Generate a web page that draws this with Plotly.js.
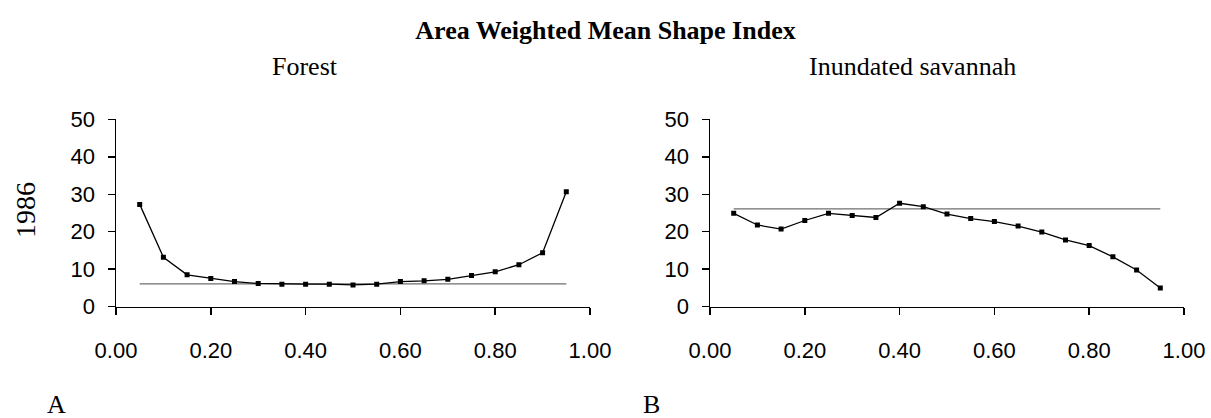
<!DOCTYPE html>
<html>
<head>
<meta charset="utf-8">
<script src="https://cdn.plot.ly/plotly-3.0.1.min.js"></script>
<style>html,body{margin:0;padding:0;background:#fff;}#chart{width:1211px;height:418px;}</style>
</head>
<body>
<div id="chart"></div>
<script>
// Data
const proportion = [0.05,0.10,0.15,0.20,0.25,0.30,0.35,0.40,0.45,0.50,0.55,0.60,0.65,0.70,0.75,0.80,0.85,0.90,0.95];
const forestAWMSI = [27.3,13.2,8.5,7.5,6.7,6.2,6.0,6.0,6.0,5.8,6.0,6.7,6.9,7.3,8.3,9.3,11.2,14.4,30.7];
const savannahAWMSI = [24.9,21.8,20.7,23.0,24.9,24.3,23.8,27.6,26.7,24.7,23.5,22.7,21.5,19.9,17.8,16.3,13.3,9.8,5.0];
const refX = [0.05, 0.95];
const forestRef = [6.1, 6.1];
const savannahRef = [26.1, 26.1];
const xTicks = [0, 0.2, 0.4, 0.6, 0.8, 1.0];
const yTicks = [0, 10, 20, 30, 40, 50];
const mainTitle = 'Area Weighted Mean Shape Index';
const panelTitles = ['Forest', 'Inundated savannah'];
const yearLabel = '1986';
const panelLetters = ['A', 'B'];

const lineStyle = {color:'#000', width:1.3};
const markerStyle = {symbol:'square', size:5, color:'#000'};
const refStyle = {color:'#6e6e6e', width:1.2};

const traces = [
  {x: refX, y: forestRef, mode:'lines', line: refStyle, xaxis:'x', yaxis:'y', hoverinfo:'skip'},
  {x: proportion, y: forestAWMSI, mode:'lines+markers', line: lineStyle, marker: markerStyle, xaxis:'x', yaxis:'y'},
  {x: refX, y: savannahRef, mode:'lines', line: refStyle, xaxis:'x2', yaxis:'y2', hoverinfo:'skip'},
  {x: proportion, y: savannahAWMSI, mode:'lines+markers', line: lineStyle, marker: markerStyle, xaxis:'x2', yaxis:'y2'}
];

const tickFont = {family:'"Liberation Sans", Arial, sans-serif', size:22, color:'#000'};
function xAx(domain, anchor){
  return {domain: domain, anchor: anchor, range:[0,1], tickvals: xTicks, tickformat:'.2f',
    showline:true, linecolor:'#000', linewidth:1.5, ticks:'outside', ticklen:7, tickwidth:1.5, tickcolor:'#000',
    showgrid:false, zeroline:false, tickfont: tickFont, ticklabelstandoff: 16, fixedrange:true};
}
function yAx(domain, anchor){
  return {domain: domain, anchor: anchor, range:[0,50], tickvals: yTicks,
    showline:true, linecolor:'#000', linewidth:1.5, ticks:'outside', ticklen:7, tickwidth:1.5, tickcolor:'#000',
    showgrid:false, zeroline:false, tickfont: tickFont, ticklabelstandoff: 8, fixedrange:true};
}
const yDom = [1-306.7/418, 1-119.3/418];
const serif = '"Liberation Serif", "Times New Roman", serif';

const layout = {
  width:1211, height:418,
  margin:{l:0, r:0, t:0, b:0},
  paper_bgcolor:'#fff', plot_bgcolor:'#fff',
  showlegend:false,
  title:{text:'<b>'+mainTitle+'</b>', x:0.5, xanchor:'center', y:1-30/418, yanchor:'middle', font:{family:serif, size:26, color:'#000'}},
  xaxis: xAx([116/1211, 590/1211], 'y'),
  yaxis: yAx(yDom, 'x'),
  xaxis2: xAx([710/1211, 1184/1211], 'y2'),
  yaxis2: yAx(yDom, 'x2'),
  annotations:[
    {text: panelTitles[0], xref:'paper', yref:'paper', x:305/1211, y:1-66/418, xanchor:'center', yanchor:'middle', showarrow:false, font:{family:serif, size:26, color:'#000'}},
    {text: panelTitles[1], xref:'paper', yref:'paper', x:912/1211, y:1-66/418, xanchor:'center', yanchor:'middle', showarrow:false, font:{family:serif, size:26, color:'#000'}},
    {text: yearLabel, xref:'paper', yref:'paper', x:26/1211, y:1-210/418, xanchor:'center', yanchor:'middle', textangle:-90, showarrow:false, font:{family:serif, size:28, color:'#000'}},
    {text: panelLetters[0], xref:'paper', yref:'paper', x:56/1211, y:1-404/418, xanchor:'center', yanchor:'middle', showarrow:false, font:{family:serif, size:26, color:'#000'}},
    {text: panelLetters[1], xref:'paper', yref:'paper', x:651/1211, y:1-404/418, xanchor:'center', yanchor:'middle', showarrow:false, font:{family:serif, size:26, color:'#000'}}
  ]
};

Plotly.newPlot('chart', traces, layout, {staticPlot:true, displayModeBar:false});
</script>
</body>
</html>
